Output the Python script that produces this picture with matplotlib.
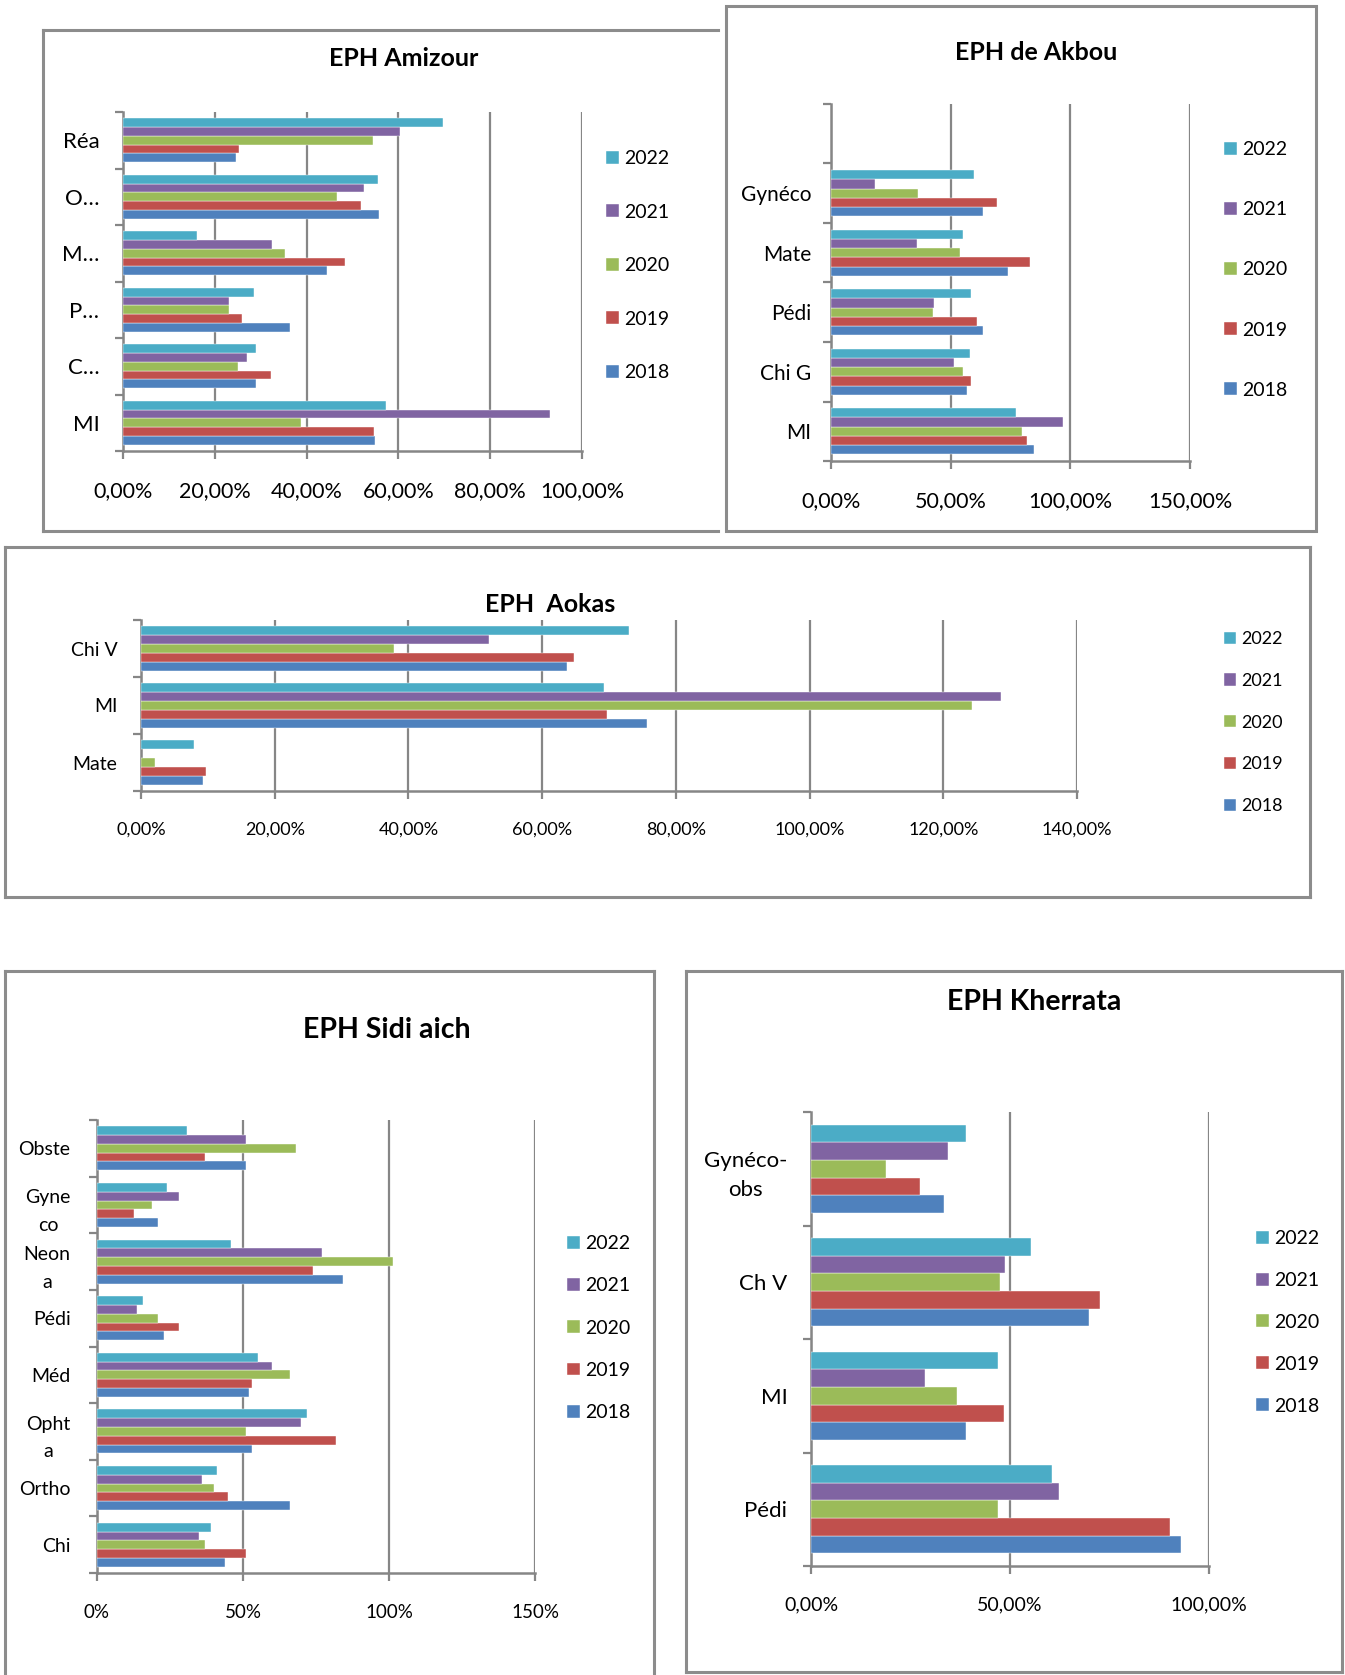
import numpy as np
import matplotlib
matplotlib.use('Agg')
import matplotlib.pyplot as plt
from matplotlib.patches import Rectangle
from matplotlib.lines import Line2D
from matplotlib.ticker import FuncFormatter, MultipleLocator, FixedLocator

plt.rcParams['font.family'] = ['Lato', 'DejaVu Sans']

W, H = 1345, 1675
years = ['2018', '2019', '2020', '2021', '2022']
colors = ['#4F81BD', '#C0504D', '#9BBB59', '#8064A2', '#4BACC6']
nan = np.nan

# categories listed bottom -> top (Excel order), values in %
amizour_cats = ['MI', 'C…', 'P…', 'M…', 'O…', 'Réa']
amizour_2018 = [55.0, 28.9, 36.4, 44.4, 55.7, 24.7]
amizour_2019 = [54.6, 32.3, 26.0, 48.4, 51.8, 25.2]
amizour_2020 = [38.8, 25.0, 23.2, 35.3, 46.6, 54.4]
amizour_2021 = [93.1, 27.1, 23.2, 32.5, 52.5, 60.3]
amizour_2022 = [57.2, 28.9, 28.5, 16.1, 55.6, 69.8]

akbou_cats = ['MI', 'Chi G', 'Pédi', 'Mate', 'Gynéco', '']
akbou_2018 = [84.9, 56.9, 63.5, 73.8, 63.5, nan]
akbou_2019 = [81.8, 58.7, 61.2, 83.0, 69.5, nan]
akbou_2020 = [79.6, 55.3, 42.8, 54.1, 36.3, nan]
akbou_2021 = [97.1, 51.3, 43.1, 35.8, 18.4, nan]
akbou_2022 = [77.5, 58.1, 58.6, 55.3, 59.6, nan]

aokas_cats = ['Mate', 'MI', 'Chi V']
aokas_2018 = [9.3, 75.7, 63.7]
aokas_2019 = [9.7, 69.7, 64.8]
aokas_2020 = [2.1, 124.3, 37.8]
aokas_2021 = [nan, 128.7, 52.1]
aokas_2022 = [7.9, 69.2, 73.0]

sidi_cats = ['Chi', 'Ortho', 'Opht\na', 'Méd', 'Pédi', 'Neon\na', 'Gyne\nco', 'Obste']
sidi_2018 = [43.9, 66.0, 53.0, 52.0, 22.9, 84.1, 21.0, 51.0]
sidi_2019 = [51.0, 45.0, 82.0, 53.0, 28.1, 74.1, 12.8, 36.9]
sidi_2020 = [36.9, 40.1, 51.0, 66.0, 21.0, 101.2, 18.9, 68.2]
sidi_2021 = [35.0, 36.0, 70.0, 59.9, 13.8, 77.1, 28.1, 51.0]
sidi_2022 = [38.9, 41.1, 72.0, 55.0, 15.9, 46.0, 23.9, 30.8]

kher_cats = ['Pédi', 'MI', 'Ch V', 'Gynéco-\nobs']
kher_2018 = [92.9, 38.9, 69.9, 33.4]
kher_2019 = [90.2, 48.6, 72.6, 27.5]
kher_2020 = [47.1, 36.6, 47.5, 18.8]
kher_2021 = [62.3, 28.6, 48.8, 34.5]
kher_2022 = [60.6, 47.1, 55.4, 38.9]

fig = plt.figure(figsize=(W / 100, H / 100), dpi=100)
fig.patch.set_facecolor('white')

grey = '#868686'


def rect(x, y, w, h):
    return [x / W, 1 - (y + h) / H, w / W, h / H]


def frame(x0, y0, x1, y1, sides='ltrb'):
    pts = {'l': ([x0, x0], [y0, y1]), 't': ([x0, x1], [y0, y0]),
           'r': ([x1, x1], [y0, y1]), 'b': ([x0, x1], [y1, y1])}
    for s in sides:
        xs, ys = pts[s]
        fig.add_artist(Line2D([v / W for v in xs], [1 - v / H for v in ys],
                              color='#8C8C8C', lw=2.2, transform=fig.transFigure, zorder=-1))


def chart(box, cats, series, xmax, step, fmt, tfs_x, cfs, lfs, xpad, ypad, leg, legsp,
          title, tpos, tfs, lsp=1.2):
    ax = fig.add_axes(rect(*box))
    n = len(cats)
    y = np.arange(n)
    h = 0.155
    bars = []
    for j, vals in enumerate(series):
        b = ax.barh(y + (j - 2) * h, np.array(vals) / 100.0, height=h, color=colors[j],
                    edgecolor='white', linewidth=0.3, zorder=3)
        bars.append(b)
    ax.set_xlim(0, xmax)
    ax.set_ylim(-0.5, n - 0.5)
    ax.xaxis.set_major_locator(MultipleLocator(step))
    ax.xaxis.set_major_formatter(FuncFormatter(fmt))
    ax.grid(axis='x', color=grey, lw=1.6, zorder=0)
    ax.set_axisbelow(True)
    for s in ['top', 'right']:
        ax.spines[s].set_visible(False)
    for s in ['left', 'bottom']:
        ax.spines[s].set_color(grey)
        ax.spines[s].set_linewidth(1.8)
    ax.yaxis.set_major_locator(FixedLocator(np.arange(n + 1) - 0.5))
    ax.yaxis.set_major_formatter(FuncFormatter(lambda v, p: ''))
    ax.yaxis.set_minor_locator(FixedLocator(y))
    ax.set_yticklabels(cats, minor=True)
    ax.tick_params(axis='y', which='major', length=6, width=1.6, color=grey, direction='out')
    ax.tick_params(axis='y', which='minor', length=0, pad=ypad, labelsize=cfs)
    ax.tick_params(axis='x', length=6, width=1.6, color=grey, direction='out', pad=xpad,
                   labelsize=tfs_x)
    for lab in ax.get_yticklabels(minor=True):
        lab.set_multialignment('center')
        lab.set_linespacing(lsp)
    handles = [bars[j] for j in range(4, -1, -1)]
    labels = [years[j] for j in range(4, -1, -1)]
    ax.legend(handles, labels, loc='upper left', bbox_to_anchor=(leg[0] / W, 1 - leg[1] / H),
              bbox_transform=fig.transFigure, frameon=False, fontsize=lfs,
              labelspacing=legsp, handlelength=0.65, handleheight=0.65,
              handletextpad=0.3, borderpad=0, borderaxespad=0)
    fig.text(tpos[0] / W, 1 - tpos[1] / H, title, ha='center', va='center',
             fontsize=tfs, fontweight='bold')
    return ax


def pct2(v, p):
    return ('%.2f%%' % (v * 100)).replace('.', ',')


def pct0(v, p):
    return '%d%%' % round(v * 100)


# frames
frame(43, 30, 718, 531, 'ltb')
fig.add_artist(Rectangle((726 / W, 1 - 531 / H), (1316 - 726) / W, (531 - 6) / H,
                         transform=fig.transFigure, facecolor='white', edgecolor='#8C8C8C',
                         lw=2.2, zorder=-1))
frame(5, 547, 1310, 897)
frame(5, 971, 654, 1700, 'ltr')
frame(686, 971, 1342, 1672)

chart((123, 112, 459, 339), amizour_cats,
      [amizour_2018, amizour_2019, amizour_2020, amizour_2021, amizour_2022],
      1.0, 0.2, pct2, 15.5, 16, 14, 16, 17, (606, 150), 1.88, 'EPH Amizour', (404, 59), 18)

chart((831, 104, 359, 357), akbou_cats,
      [akbou_2018, akbou_2019, akbou_2020, akbou_2021, akbou_2022],
      1.5, 0.5, pct2, 15.5, 15, 14, 16, 14, (1224, 141), 2.22, 'EPH de Akbou', (1036, 53), 18)

chart((141, 620, 936, 171), aokas_cats,
      [aokas_2018, aokas_2019, aokas_2020, aokas_2021, aokas_2022],
      1.4, 0.2, pct2, 13, 14, 13, 16, 17, (1224, 631), 1.43, 'EPH  Aokas', (550, 605), 18)

chart((97, 1120, 438, 453), sidi_cats,
      [sidi_2018, sidi_2019, sidi_2020, sidi_2021, sidi_2022],
      1.5, 0.5, pct0, 13.5, 14, 14, 16, 19, (567, 1235), 1.3, 'EPH Sidi aich', (387, 1030), 20.5,
      lsp=1.75)

chart((811, 1112, 398, 454), kher_cats,
      [kher_2018, kher_2019, kher_2020, kher_2021, kher_2022],
      1.0, 0.5, pct2, 14, 16, 14, 16, 17, (1256, 1230), 1.28, 'EPH Kherrata', (1034, 1002), 20.5,
      lsp=1.6)

fig.savefig('out.png', dpi=100, facecolor='white')
